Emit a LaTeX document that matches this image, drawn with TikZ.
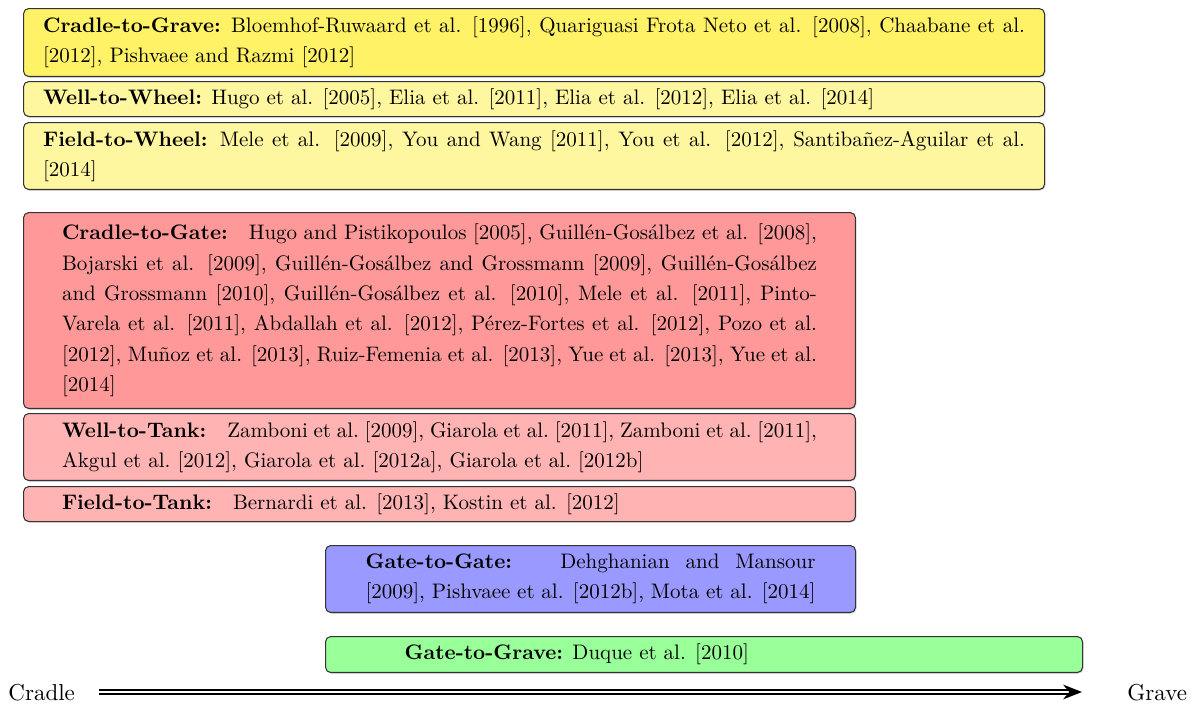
\documentclass[tikz,border=0pt]{standalone}
\usetikzlibrary{arrows.meta,shadows}
\definecolor{ylwA}{RGB}{255,242,102}
\definecolor{ylwB}{RGB}{255,246,160}
\definecolor{redA}{RGB}{255,153,153}
\definecolor{redB}{RGB}{255,179,179}
\definecolor{bluA}{RGB}{153,153,255}
\definecolor{grnA}{RGB}{153,255,153}
\tikzset{
  refbox/.style={draw=black!80, line width=0.5pt, rounded corners=2.5pt,
    anchor=north west, align=justify, inner ysep=2pt,
    font=\fontsize{10}{14.5}\selectfont,
    drop shadow={shadow xshift=0.5pt, shadow yshift=-0.5pt, opacity=0.35}},
  wideA/.style={refbox, text width=467.6pt, inner xsep=9.3pt},
  wideB/.style={refbox, text width=359.5pt, inner xsep=18.33pt},
  wideC/.style={refbox, text width=214.3pt, inner xsep=19.05pt},
  wideD/.style={refbox, text width=322.4pt, inner xsep=19.05pt},
  endlabel/.style={anchor=base west, inner sep=0pt, font=\fontsize{10.95}{13.6}\selectfont},
  timeline/.style={double, line width=0.85pt, double distance=1.4pt, -{Stealth[length=9pt,width=7pt]}}
}
\begin{document}
\begin{tikzpicture}[x=0.47619pt, y=-0.47619pt]
\useasboundingbox (0,0) rectangle (1192,704);
\node[wideA, fill=ylwA, minimum height=32.38pt] (c2grave) at (23,8)
  {\textbf{Cradle-to-Grave:} Bloemhof-Ruwaard et al. [1996], Quariguasi Frota Neto et al. [2008], Chaabane et al.\linebreak{}[2012], Pishvaee and Razmi [2012]};
\node[wideA, fill=ylwB, minimum height=16.67pt] (w2wheel) at (23,81)
  {\textbf{Well-to-Wheel:} Hugo et al. [2005], Elia et al. [2011], Elia et al. [2012], Elia et al. [2014]};
\node[wideA, fill=ylwB, minimum height=31.9pt] (f2wheel) at (23,122)
  {\textbf{Field-to-Wheel:} Mele et al. [2009], You and Wang [2011], You et al. [2012], Santibañez-Aguilar et al.\linebreak{}[2014]};
\node[wideB, fill=redA, minimum height=93.33pt] (c2gate) at (23,212)
  {\textbf{Cradle-to-Gate:}\quad Hugo and Pistikopoulos [2005], Guillén-Gosálbez et al. [2008],\linebreak{}Bojarski et al. [2009], Guillén-Gosálbez and Grossmann [2009], Guillén-Gosálbez\linebreak{}and Grossmann [2010], Guillén-Gosálbez et al. [2010], Mele et al. [2011], Pinto-\linebreak{}Varela et al. [2011], Abdallah et al. [2012], Pérez-Fortes et al. [2012], Pozo et al.\linebreak{}[2012], Muñoz et al. [2013], Ruiz-Femenia et al. [2013], Yue et al. [2013], Yue et al.\linebreak{}[2014]};
\node[wideB, fill=redB, minimum height=31.9pt] (w2tank) at (23,413)
  {\frenchspacing\textbf{Well-to-Tank:}\quad Zamboni et al. [2009], Giarola et al. [2011], Zamboni et al. [2011],\linebreak{}Akgul et al. [2012], Giarola et al. [2012a], Giarola et al. [2012b]};
\node[wideB, fill=redB, minimum height=16.67pt] (f2tank) at (23,486)
  {\textbf{Field-to-Tank:}\quad Bernardi et al. [2013], Kostin et al. [2012]};
\node[wideC, fill=bluA, minimum height=31.9pt] (g2gate) at (325,545)
  {\textbf{Gate-to-Gate:} \quad Dehghanian and Mansour\linebreak{}[2009], Pishvaee et al. [2012b], Mota et al. [2014]};
\node[wideD, fill=grnA, minimum height=17.14pt] (g2grave) at (325,636)
  {\hspace*{18.6pt}\textbf{Gate-to-Grave:} Duque et al. [2010]};
\node[endlabel] (cradle) at (8,700) {Cradle};
\node[endlabel] (grave) at (1127,700) {Grave};
\coordinate (tlstart) at (99,692);
\coordinate (tlend) at (1082,692);
\draw[timeline] (tlstart) -- (tlend);
\end{tikzpicture}
\end{document}
